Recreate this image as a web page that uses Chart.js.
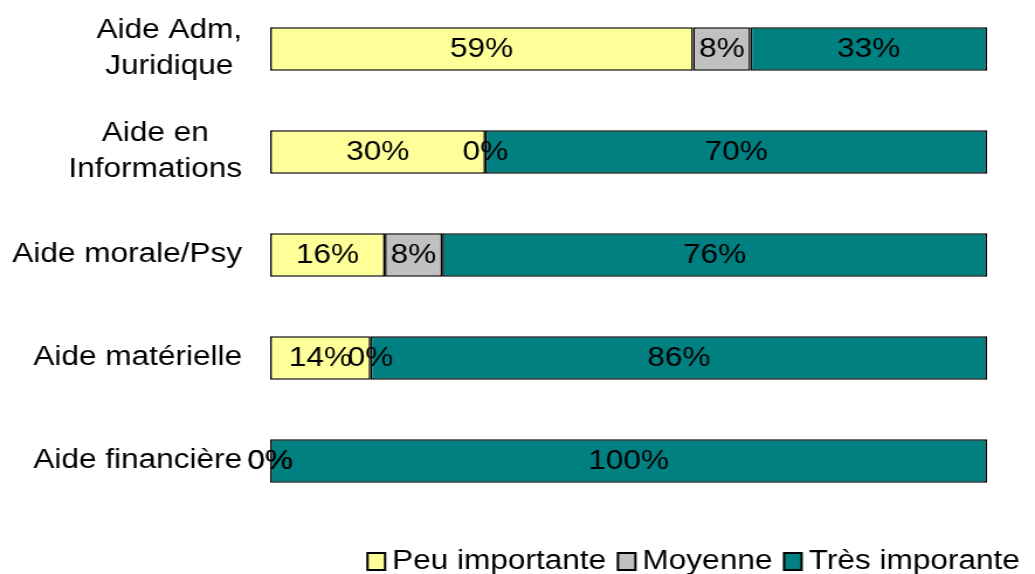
<!DOCTYPE html>
<html>
<head>
<meta charset="utf-8">
<script src="https://cdn.jsdelivr.net/npm/chart.js@4.4.0/dist/chart.umd.min.js"></script>
<style>
html, body { margin: 0; padding: 0; background: #fff; }
#chart { display: block; width: 1035px !important; height: 574px !important; }
</style>
</head>
<body>
<canvas id="chart" width="885" height="574" style="width:1035px;height:574px"></canvas>
<script>
// data
const categories = [['Aide Adm,', 'Juridique'], ['Aide en', 'Informations'], ['Aide morale/Psy'], ['Aide matérielle'], ['Aide financière']];
const peuImportante = [59, 30, 16, 14, 0];
const moyenne = [8, 0, 8, 0, 0];
const tresImportante = [33, 70, 76, 86, 100];
const seriesNames = ['Peu importante', 'Moyenne', 'Très imporante'];
const seriesColors = ['#FFFF99', '#C0C0C0', '#008080'];

const FONT = '27px "Liberation Sans", Arial, sans-serif';

// canvas is drawn narrow and stretched by css, like the original picture
const textPlugin = {
    id: 'textPlugin',
    afterDatasetsDraw(chart) {
        const ctx = chart.ctx;
        ctx.save();
        ctx.font = FONT;
        ctx.fillStyle = '#000';
        ctx.textBaseline = 'middle';
        ctx.textAlign = 'center';

        // value labels in the middle of each segment
        chart.data.datasets.forEach((ds, i) => {
            chart.getDatasetMeta(i).data.forEach((bar, j) => {
                const { x, base, y } = bar.getProps(['x', 'base', 'y'], true);
                ctx.fillText(ds.data[j] + '%', (x + base) / 2, y + 1);
            });
        });

        // category labels, block right aligned, lines centred
        const yScale = chart.scales.y;
        const right = 207;
        categories.forEach((lines, i) => {
            const yc = yScale.getPixelForTick(i);
            const maxW = Math.max(...lines.map(l => ctx.measureText(l).width));
            const cx = right - maxW / 2;
            lines.forEach((l, k) => {
                ctx.fillText(l, cx, yc + (k - (lines.length - 1) / 2) * 36);
            });
        });

        // legend, right aligned at the bottom
        const boxW = 15, boxH = 17, gapBox = 6, gapItem = 10;
        const ly = 562;
        let xr = 872;
        ctx.textAlign = 'left';
        for (let i = chart.data.datasets.length - 1; i >= 0; i--) {
            const ds = chart.data.datasets[i];
            const w = ctx.measureText(ds.label).width;
            const tx = xr - w;
            ctx.fillStyle = '#000';
            ctx.fillText(ds.label, tx, ly);
            const bx = tx - gapBox - boxW;
            ctx.fillStyle = ds.backgroundColor;
            ctx.fillRect(bx, 553, boxW, boxH);
            ctx.lineWidth = 2;
            ctx.strokeStyle = '#000';
            ctx.strokeRect(bx, 553, boxW, boxH);
            xr = bx - gapItem;
        }
        ctx.restore();
    }
};

const seriesData = [peuImportante, moyenne, tresImportante];

new Chart(document.getElementById('chart'), {
    type: 'bar',
    data: {
        labels: categories,
        datasets: seriesData.map((d, i) => ({
            label: seriesNames[i],
            data: d,
            backgroundColor: seriesColors[i],
            borderColor: '#000',
            borderWidth: 1.6,
            borderSkipped: false,
            barPercentage: 0.423,
            categoryPercentage: 1,
            clip: false
        }))
    },
    options: {
        indexAxis: 'y',
        responsive: false,
        animation: false,
        layout: {
            padding: { left: 231, right: 41, top: 49, bottom: 113 }
        },
        plugins: {
            legend: { display: false },
            tooltip: { enabled: false }
        },
        scales: {
            x: { stacked: true, min: 0, max: 100, display: false },
            y: { stacked: true, display: false, offset: false }
        }
    },
    plugins: [textPlugin]
});
</script>
</body>
</html>
